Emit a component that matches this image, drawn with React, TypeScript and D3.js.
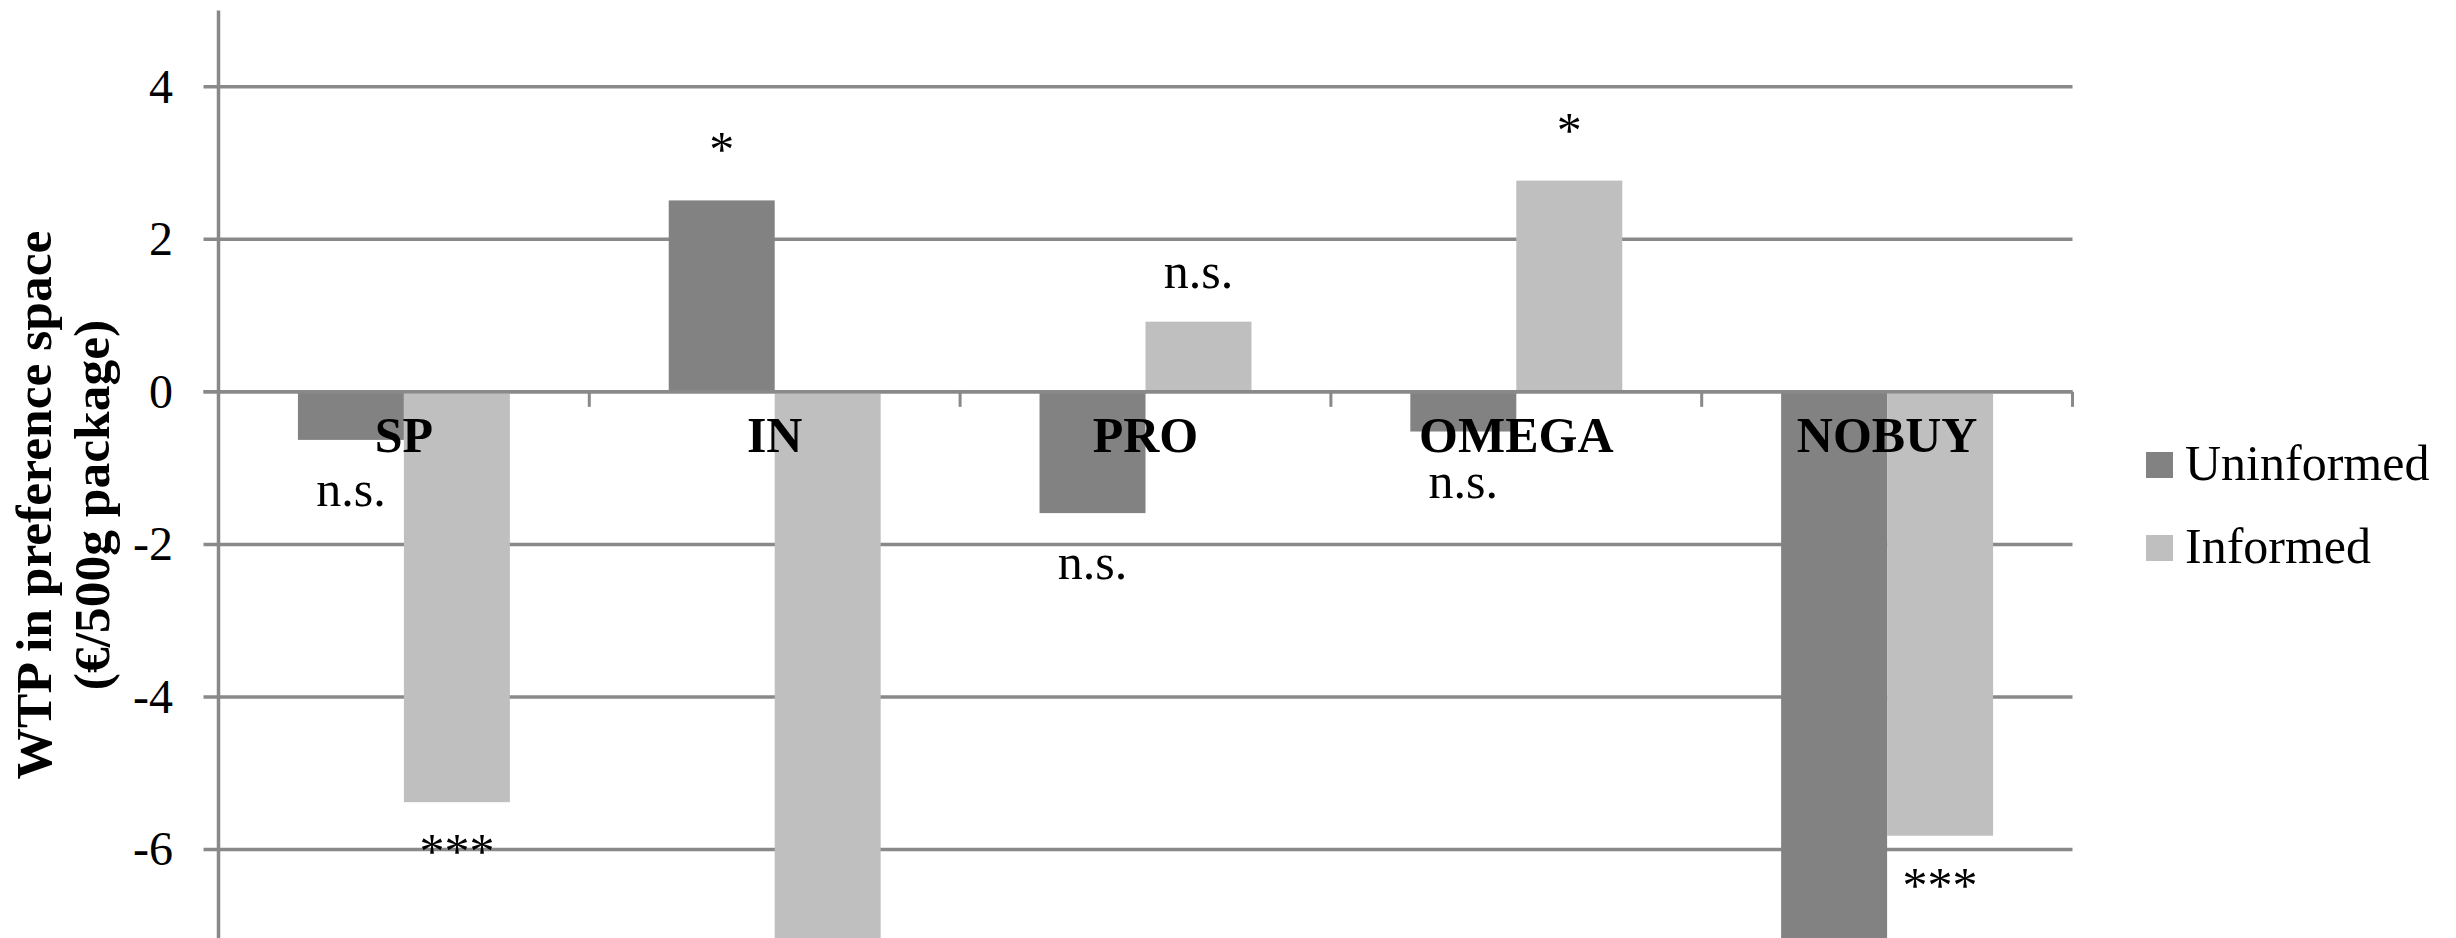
import React from "react";
import * as d3 from "d3";

const categories = ["SP", "IN", "PRO", "OMEGA", "NOBUY"];
const uninformed = [-0.63, 2.51, -1.59, -0.52, -7.8];
const informed = [-5.38, -7.6, 0.92, 2.77, -5.82];
const uninformedSig = ["n.s.", "*", "n.s.", "n.s.", ""];
const informedSig = ["***", "", "n.s.", "*", "***"];
const yTicks = [-6, -4, -2, 0, 2, 4];
const seriesNames = ["Uninformed", "Informed"];
const seriesColors = ["#828282", "#bfbfbf"];
const yTitleLines = ["WTP in preference space", "(€/500g package)"];

const W = 2456;
const H = 938;
const FONT = "'Liberation Serif', 'Times New Roman', serif";

export default function App() {
  const plotLeft = 218.5;
  const plotRight = 2072.5;
  const y = d3.scaleLinear().domain([-8, 5]).range([1002, 10.5]);
  const x0 = d3.scaleBand<string>().domain(categories).range([plotLeft, plotRight]).padding(0);
  const step = x0.step();
  const x1 = d3
    .scaleBand<string>()
    .domain(seriesNames)
    .range([step * 0.2142, step * 0.7858])
    .padding(0);
  const series = [uninformed, informed];
  const sigs = [uninformedSig, informedSig];
  const gridColor = "#898989";
  const y0 = y(0);
  const boundaries = categories.map((c) => (x0(c) as number) + step);

  return (
    <svg
      width={W}
      height={H}
      style={{ position: "absolute", left: 0, top: 0, background: "#fff" }}
      fontFamily={FONT}
    >
      <rect x={0} y={0} width={W} height={H} fill="#fff" />
      {/* gridlines + ticks */}
      {yTicks.map((t) => (
        <line
          key={"g" + t}
          x1={plotLeft - 15}
          x2={plotRight}
          y1={y(t)}
          y2={y(t)}
          stroke={gridColor}
          strokeWidth={3.5}
        />
      ))}
      {/* bars */}
      {categories.map((c, i) =>
        series.map((s, j) => {
          const v = s[i];
          const bx = (x0(c) as number) + (x1(seriesNames[j]) as number);
          return (
            <rect
              key={c + j}
              x={bx}
              y={Math.min(y(v), y0)}
              width={x1.bandwidth()}
              height={Math.abs(y(v) - y0)}
              fill={seriesColors[j]}
            />
          );
        })
      )}
      {/* zero axis line and category ticks */}
      <line x1={plotLeft - 15} x2={plotRight} y1={y0} y2={y0} stroke={gridColor} strokeWidth={3.5} />
      {boundaries.map((b, i) => (
        <line key={"ct" + i} x1={b} x2={b} y1={y0} y2={y0 + 15} stroke={gridColor} strokeWidth={3} />
      ))}
      {/* y axis line */}
      <line x1={plotLeft} x2={plotLeft} y1={y(5)} y2={H + 10} stroke={gridColor} strokeWidth={3.5} />
      {/* y tick labels */}
      {yTicks.map((t) => (
        <text key={"tl" + t} x={173} y={y(t) + 16} textAnchor="end" fontSize={48} fill="#000">
          {String(t)}
        </text>
      ))}
      {/* y title */}
      {yTitleLines.map((line, i) => (
        <text
          key={"yt" + i}
          transform={`translate(${51 + i * 58}, 505) rotate(-90)`}
          textAnchor="middle"
          fontSize={51.5}
          fontWeight="bold"
          fill="#000"
        >
          {line}
        </text>
      ))}
      {/* category labels */}
      {categories.map((c) => (
        <text
          key={"cl" + c}
          x={(x0(c) as number) + step / 2}
          y={452}
          textAnchor="middle"
          fontSize={50}
          fontWeight="bold"
          fill="#000"
        >
          {c}
        </text>
      ))}
      {/* significance labels */}
      {categories.map((c, i) =>
        series.map((s, j) => {
          const v = s[i];
          const label = sigs[j][i];
          if (!label) return null;
          const cx = (x0(c) as number) + (x1(seriesNames[j]) as number) + x1.bandwidth() / 2;
          const ty = v >= 0 ? y(v) - 34 : y(v) + 66;
          return (
            <text key={"s" + c + j} x={cx} y={ty} textAnchor="middle" fontSize={50} fill="#000">
              {label}
            </text>
          );
        })
      )}
      {/* legend */}
      {seriesNames.map((n, j) => (
        <g key={"lg" + n} transform={`translate(2146, ${465 + j * 83})`}>
          <rect x={0} y={-13} width={27} height={26} fill={seriesColors[j]} />
          <text x={39} y={15} fontSize={50} fill="#000">
            {n}
          </text>
        </g>
      ))}
    </svg>
  );
}
